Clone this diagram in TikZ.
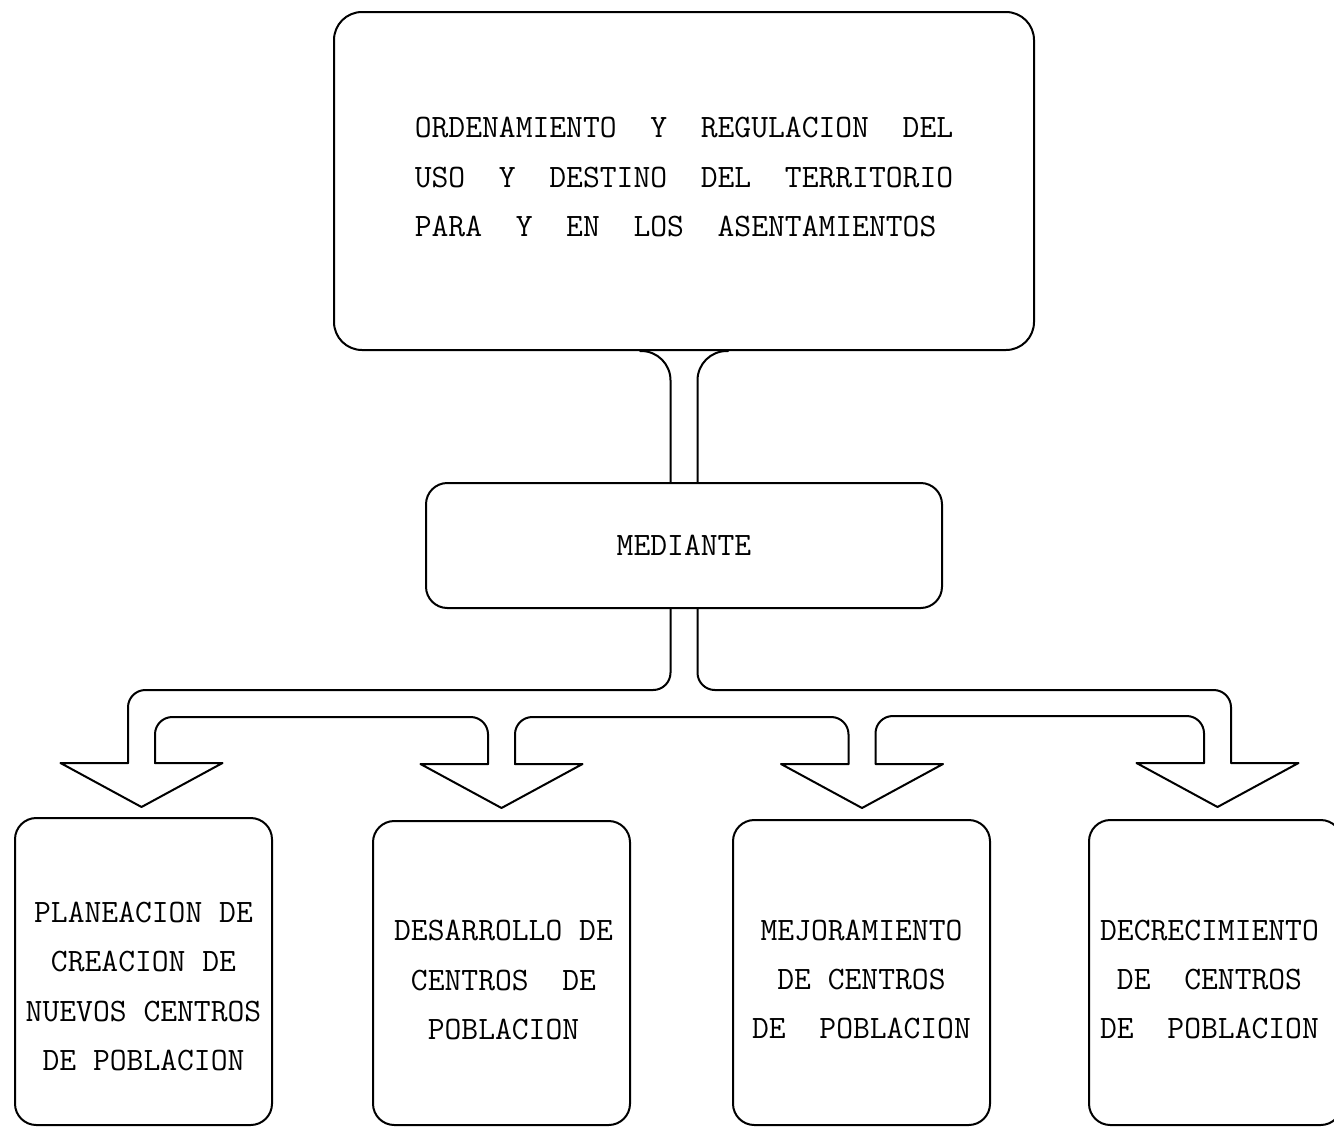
\documentclass[tikz,border=0pt]{standalone}
\usepackage{fontspec}
\usetikzlibrary{calc,fit}
\tikzset{
  box/.style={draw, inner sep=0pt, rounded corners=16pt},
  txt/.style={font=\ttfamily\fontsize{24.5pt}{37pt}\selectfont, align=center, inner sep=0pt},
  headarrow/.pic={\draw (-13.5,0) -- (-81,0) -- (0,44) -- (81,0) -- (13.5,0);}
}
\begin{document}
\begin{tikzpicture}[x=0.75pt,y=-0.75pt, line width=1.5pt, line join=round, line cap=round]
\useasboundingbox (0,0) rectangle (1334,1128);
\clip (0,0) rectangle (1334,1128);
\fill[white] (0,0) rectangle (1334,1128);

\node[box, rounded corners=21pt, fit={(334,12) (1034,350)}] (top) {};
\node[txt, align=left] (ttop) at ($(top.center)+(0,-4)$)
  {ORDENAMIENTO~~Y~~REGULACION~~DEL\\USO~~Y~~DESTINO~~DEL~~TERRITORIO\\PARA~~Y~~EN~~LOS~~ASENTAMIENTOS};
\node[box, fit={(426,483) (942,608)}] (med) {};
\node[txt] (tmed) at (med.center) {MEDIANTE};

\node[box, fit={(15,818) (272,1125)}] (b1) {};
\node[box, fit={(373,821) (630,1125)}] (b2) {};
\node[box, fit={(733,820) (990,1125)}] (b3) {};
\node[box, fit={(1089,820) (1342,1125)}] (b4) {};

\node[txt] (t1) at ($(b1.center)+(0,15)$) {PLANEACION DE\\CREACION DE\\NUEVOS CENTROS\\DE POBLACION};
\node[txt] (t2) at ($(b2.center)+(2,7)$) {DESARROLLO DE\\CENTROS~~DE\\POBLACION};
\node[txt] (t3) at ($(b3.center)+(0,7)$) {MEJORAMIENTO\\DE CENTROS\\DE~~POBLACION};
\node[txt] (t4) at ($(b4.center)+(-6,7)$) {DECRECIMIENTO\\DE~~CENTROS\\DE~~POBLACION};

\coordinate (a1) at (141.5,763);
\coordinate (a2) at (501.5,764);
\coordinate (a3) at (862,764);
\coordinate (a4) at (1217.5,763);

% upper pipe
\draw[rounded corners=22pt] ($(top.south)+(-44,0)$) -| ($(med.north)+(-13.5,0)$);
\draw[rounded corners=22pt] ($(top.south)+(44,0)$) -| ($(med.north)+(13.5,0)$);

% lower pipes
\draw[rounded corners=13pt] ($(med.south)+(-13.5,0)$) |- ($(a1)+(-13.5,-73)$) -- ($(a1)+(-13.5,0)$);
\draw[rounded corners=13pt] ($(med.south)+(13.5,0)$) |- ($(a4)+(13.5,-73)$) -- ($(a4)+(13.5,0)$);
\draw[rounded corners=13pt] ($(a1)+(13.5,0)$) |- ($(a2)+(-13.5,-47)$) -- ($(a2)+(-13.5,0)$);
\draw[rounded corners=13pt] ($(a2)+(13.5,0)$) |- ($(a3)+(-13.5,-47)$) -- ($(a3)+(-13.5,0)$);
\draw[rounded corners=13pt] ($(a3)+(13.5,0)$) |- ($(a4)+(-13.5,-47)$) -- ($(a4)+(-13.5,0)$);

\pic at (a1) {headarrow};
\pic at (a2) {headarrow};
\pic at (a3) {headarrow};
\pic at (a4) {headarrow};
\end{tikzpicture}
\end{document}
